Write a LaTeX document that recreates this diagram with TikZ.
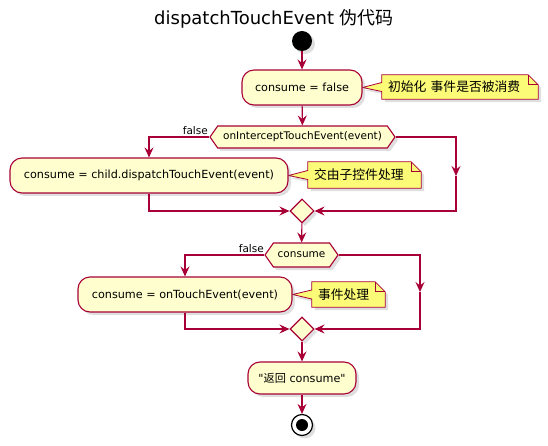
\documentclass[tikz,border=0pt]{standalone}
\usepackage{fontspec}
\setmainfont{DejaVu Sans}[Ligatures=TeXOff]
\newfontfamily\cjk{Noto Sans CJK SC}
\usetikzlibrary{arrows.meta,shapes.geometric,shapes.symbols,shadows,calc}
\definecolor{pumlred}{HTML}{A80036}
\definecolor{pumlfill}{HTML}{FEFECE}
\definecolor{pumlnote}{HTML}{FBFB77}
\pgfdeclarelayer{background}
\pgfsetlayers{background,main}
\begin{document}
\begin{tikzpicture}[x=1pt,y=-1pt,
  shad/.style={drop shadow={opacity=0.25,shadow xshift=3pt,shadow yshift=-3pt}},
  act/.style={draw=pumlred,fill=pumlfill,line width=1.1pt,rounded corners=12pt,
    inner sep=0pt,font=\fontsize{11.2}{13}\selectfont,shad},
  hexa/.style={signal,signal to=west and east,signal pointer angle=110,draw=pumlred,fill=pumlfill,
    line width=1.1pt,inner sep=0pt,font=\fontsize{10.5}{12}\selectfont,shad},
  merge/.style={diamond,aspect=1,draw=pumlred,fill=pumlfill,line width=1.1pt,
    inner sep=0pt,minimum size=24pt,shad},
  notetext/.style={inner xsep=6pt,inner ysep=0pt,align=left,font=\cjk\fontsize{12.8}{14}\selectfont},
  notebox/.style={draw=pumlred,fill=pumlnote,line width=0.8pt,shad},
  flow/.style={draw=pumlred,line width=1.1pt,-{Stealth[length=10pt,width=9pt,inset=3.5pt]}},
  lbl/.style={font=\fontsize{10.5}{12}\selectfont,inner sep=0pt}]
\useasboundingbox (0,0) rectangle (548,446);

% title
\node[font=\fontsize{18}{20}\selectfont] (title) at (274,19) {dispatchTouchEvent {\cjk 伪代码}};

% start
\node[circle,fill=black,minimum size=20pt,inner sep=0pt,shad] (start) at (302,41) {};

% actions
\node[act,minimum width=120pt,minimum height=35pt] (b1) at (302,87.5) {consume = false};
\node[hexa,minimum width=185pt,minimum height=22pt] (d1) at (302.5,137) {onInterceptTouchEvent(event)};
\node[act,minimum width=278pt,minimum height=35pt] (b2) at (149,175.5) {consume = child.dispatchTouchEvent(event)};
\node[merge] (m1) at (302,211) {};
\node[hexa,minimum width=73pt,minimum height=24pt] (d2) at (301.5,255) {consume};
\node[act,minimum width=214pt,minimum height=35pt] (b3) at (185,294.5) {consume = onTouchEvent(event)};
\node[merge] (m2) at (302,329) {};
\node[act,minimum width=108pt,minimum height=32pt] (b4) at (302,378) {"{\cjk 返回} consume"};
\node[circle,draw=black,fill=white,line width=1.2pt,minimum size=21pt,inner sep=0pt,shad] (stop) at (302,425) {};
\node[circle,fill=black,minimum size=12pt,inner sep=0pt] (stopin) at (302,425) {};

% labels
\node[lbl,anchor=south east] (f1) at (208,135) {false};
\node[lbl,anchor=south east] (f2) at (264,253) {false};

% notes
\node[notetext,text width=144pt,minimum height=24pt] (n1) at (460,87) {初始化 事件是否被消费};
\node[notetext,text width=101pt,minimum height=26pt] (n2) at (364.5,175) {交由子控件处理};
\node[notetext,text width=61pt,minimum height=25pt] (n3) at (348.5,294.5) {事件处理};

\begin{pgfonlayer}{background}
\foreach \n/\tip in {n1/b1,n2/b2,n3/b3}{
  \path[notebox] (\n.north west) -- ($(\n.north east)+(-10,0)$) -- ($(\n.north east)+(0,10)$)
    -- (\n.south east) -- (\n.south west) -- ($(\n.west)+(0,4.5)$) -- (\tip.east)
    -- ($(\n.west)+(0,-4.5)$) -- cycle;
  \draw[pumlred,line width=0.8pt] ($(\n.north east)+(-10,0)$) -- ($(\n.north east)+(-10,10)$) -- ($(\n.north east)+(0,10)$);
}
\end{pgfonlayer}

% connectors
\coordinate (r1) at (456,176);
\coordinate (r2) at (420,292);
\draw[flow] (start) -- (b1);
\draw[flow] (b1) -- (d1);
\draw[flow] (d1.west) -| (b2.north);
\draw[flow] (d1.east) -| (r1);
\draw[flow] (r1) |- (m1.east);
\draw[flow] (b2.south) |- (m1.west);
\draw[flow] (m1) -- (d2);
\draw[flow] (d2.west) -| (b3.north);
\draw[flow] (d2.east) -| (r2);
\draw[flow] (r2) |- (m2.east);
\draw[flow] (b3.south) |- (m2.west);
\draw[flow] (m2) -- (b4);
\draw[flow] (b4) -- (stop);
\end{tikzpicture}
\end{document}
